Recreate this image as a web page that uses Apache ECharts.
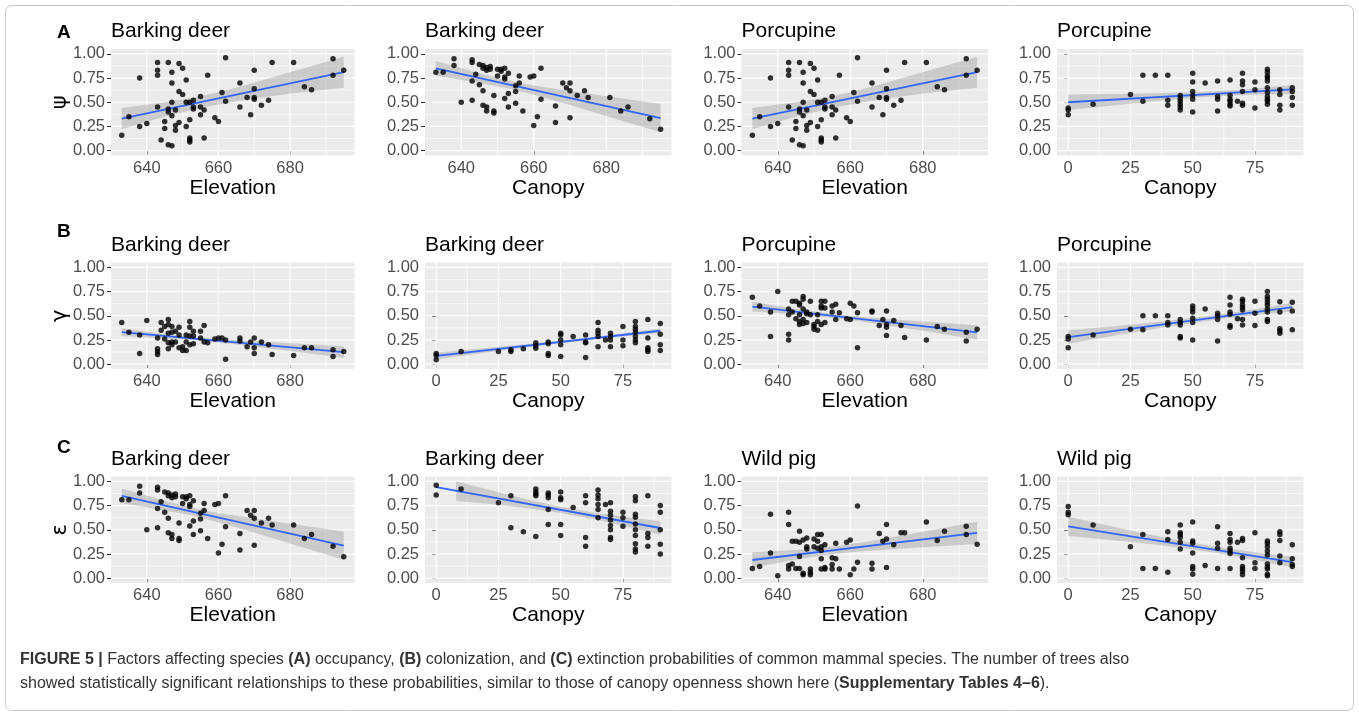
<!DOCTYPE html>
<html>
<head>
<meta charset="utf-8">
<script src="https://cdn.jsdelivr.net/npm/echarts@6/dist/echarts.min.js"></script>
<style>
  html, body { margin: 0; padding: 0; background: #fff; }
  #chart { width: 1359px; height: 716px; }
</style>
</head>
<body>
<div id="chart"></div>
<script>
// ---- tick labels ----
const elevTicks = [640, 660, 680];
const canopyTicks = [0, 25, 50, 75];
const probTicks = [0, 0.25, 0.5, 0.75, 1];

// ---- panel texts ----
const panelTitles = [
  ['Barking deer', 'Barking deer', 'Porcupine', 'Porcupine'],
  ['Barking deer', 'Barking deer', 'Porcupine', 'Porcupine'],
  ['Barking deer', 'Barking deer', 'Wild pig', 'Wild pig']
];
const xAxisTitles = [
  ['Elevation', 'Canopy', 'Elevation', 'Canopy'],
  ['Elevation', 'Canopy', 'Elevation', 'Canopy'],
  ['Elevation', 'Canopy', 'Elevation', 'Canopy']
];
const rowLetters = ['A', 'B', 'C'];
const rowSymbols = ['\u03C8', '\u03B3', '\u03B5'];

// ---- site estimates [covariate, probability] ----
const occElev = [[633,0.16],[635,0.35],[638,0.75],[638,0.25],[640,0.28],[643,0.91],[643,0.83],[643,0.78],[643,0.45],[644,0.11],[645,0.30],[645,0.23],[646,0.91],[646,0.43],[646,0.40],[646,0.06],[647,0.81],[647,0.70],[647,0.50],[647,0.36],[647,0.05],[648,0.42],[648,0.26],[648,0.21],[649,0.90],[649,0.61],[649,0.29],[650,0.85],[650,0.58],[651,0.73],[651,0.50],[651,0.25],[652,0.50],[652,0.32],[652,0.13],[652,0.11],[652,0.09],[653,0.52],[653,0.45],[653,0.43],[655,0.56],[655,0.45],[655,0.37],[656,0.42],[656,0.13],[657,0.78],[659,0.34],[660,0.30],[661,0.60],[662,0.96],[662,0.51],[666,0.70],[666,0.45],[668,0.55],[669,0.37],[670,0.83],[670,0.64],[670,0.55],[670,0.53],[672,0.47],[674,0.52],[675,0.91],[681,0.91],[684,0.66],[686,0.63],[692,0.95],[692,0.78],[695,0.83]];

const extDeerElev = [[633,0.81],[635,0.81],[638,0.95],[638,0.88],[640,0.50],[643,0.94],[643,0.91],[643,0.72],[643,0.52],[644,0.79],[645,0.89],[645,0.68],[646,0.88],[646,0.85],[646,0.62],[646,0.47],[647,0.86],[647,0.83],[647,0.45],[647,0.41],[648,0.87],[648,0.84],[649,0.57],[649,0.41],[649,0.39],[650,0.84],[650,0.77],[651,0.84],[651,0.82],[652,0.85],[652,0.76],[652,0.74],[652,0.54],[653,0.80],[653,0.59],[653,0.45],[655,0.67],[655,0.61],[655,0.49],[656,0.77],[656,0.70],[657,0.41],[659,0.76],[660,0.77],[660,0.26],[661,0.35],[662,0.85],[662,0.53],[666,0.46],[666,0.29],[668,0.70],[669,0.65],[670,0.70],[670,0.62],[670,0.34],[672,0.57],[674,0.62],[675,0.55],[681,0.55],[684,0.41],[686,0.45],[692,0.33],[695,0.22]];

const occPorcCan = [[0,0.44],[0,0.42],[0,0.37],[10,0.48],[25,0.58],[30,0.78],[30,0.51],[35,0.78],[40,0.78],[40,0.52],[40,0.47],[45,0.57],[45,0.54],[45,0.51],[45,0.48],[45,0.45],[45,0.42],[50,0.80],[50,0.71],[50,0.61],[50,0.57],[50,0.53],[50,0.40],[55,0.70],[60,0.72],[60,0.56],[60,0.53],[60,0.41],[65,0.73],[65,0.57],[65,0.53],[65,0.51],[65,0.48],[65,0.46],[68,0.51],[70,0.80],[70,0.72],[70,0.68],[70,0.61],[70,0.49],[70,0.47],[75,0.71],[75,0.63],[75,0.44],[80,0.84],[80,0.81],[80,0.77],[80,0.75],[80,0.72],[80,0.65],[80,0.60],[80,0.56],[80,0.53],[80,0.51],[80,0.48],[85,0.63],[85,0.58],[85,0.47],[85,0.42],[90,0.65],[90,0.61],[90,0.55],[90,0.47]];

const colDeerElev = [[633,0.43],[635,0.33],[638,0.30],[638,0.11],[640,0.45],[643,0.27],[643,0.16],[643,0.13],[643,0.10],[644,0.43],[644,0.35],[645,0.39],[645,0.26],[646,0.46],[646,0.41],[646,0.32],[646,0.22],[646,0.16],[647,0.39],[647,0.33],[647,0.23],[647,0.20],[648,0.34],[648,0.23],[649,0.38],[649,0.30],[649,0.17],[650,0.18],[650,0.14],[651,0.30],[651,0.23],[651,0.14],[652,0.44],[652,0.38],[652,0.29],[652,0.20],[653,0.34],[653,0.29],[653,0.21],[655,0.34],[655,0.27],[656,0.40],[656,0.23],[657,0.22],[659,0.26],[660,0.27],[661,0.27],[662,0.25],[662,0.05],[666,0.27],[666,0.24],[668,0.18],[669,0.23],[670,0.27],[670,0.17],[670,0.11],[672,0.23],[674,0.20],[675,0.10],[681,0.09],[684,0.17],[686,0.17],[692,0.15],[692,0.08],[695,0.13]];

const colDeerCan = [[0,0.11],[0,0.09],[0,0.045],[10,0.13],[25,0.13],[30,0.15],[30,0.13],[35,0.16],[40,0.22],[40,0.19],[40,0.165],[45,0.23],[45,0.21],[45,0.11],[45,0.09],[50,0.32],[50,0.30],[50,0.25],[50,0.20],[50,0.08],[55,0.285],[60,0.30],[60,0.23],[60,0.22],[60,0.07],[65,0.43],[65,0.35],[65,0.32],[65,0.285],[65,0.18],[68,0.25],[70,0.32],[70,0.285],[70,0.25],[70,0.18],[75,0.39],[75,0.25],[75,0.19],[80,0.44],[80,0.39],[80,0.36],[80,0.33],[80,0.285],[80,0.25],[80,0.22],[85,0.46],[85,0.27],[85,0.17],[85,0.15],[85,0.13],[90,0.42],[90,0.31],[90,0.20],[90,0.14]];

const colPorcElev = [[633,0.69],[635,0.60],[638,0.54],[638,0.285],[640,0.75],[643,0.57],[643,0.51],[643,0.31],[643,0.25],[644,0.65],[644,0.54],[645,0.65],[645,0.47],[646,0.63],[646,0.61],[646,0.51],[646,0.44],[646,0.41],[647,0.70],[647,0.67],[647,0.57],[647,0.46],[647,0.42],[648,0.54],[648,0.52],[648,0.43],[649,0.65],[649,0.51],[650,0.41],[650,0.39],[650,0.36],[651,0.51],[651,0.44],[651,0.35],[652,0.65],[652,0.60],[652,0.58],[652,0.41],[653,0.65],[653,0.58],[653,0.43],[655,0.60],[655,0.54],[656,0.62],[656,0.46],[657,0.53],[659,0.47],[660,0.63],[660,0.46],[661,0.60],[662,0.53],[662,0.17],[666,0.55],[666,0.54],[668,0.40],[669,0.46],[670,0.55],[670,0.41],[670,0.38],[670,0.295],[672,0.45],[674,0.40],[675,0.275],[681,0.25],[684,0.39],[686,0.36],[692,0.33],[692,0.24],[695,0.36]];

const colPorcCan = [[0,0.285],[0,0.26],[0,0.17],[10,0.30],[25,0.36],[30,0.50],[30,0.355],[35,0.50],[40,0.50],[40,0.43],[40,0.405],[45,0.46],[45,0.43],[45,0.405],[45,0.285],[45,0.27],[50,0.60],[50,0.57],[50,0.54],[50,0.475],[50,0.43],[50,0.25],[55,0.57],[60,0.525],[60,0.50],[60,0.46],[60,0.24],[65,0.69],[65,0.61],[65,0.54],[65,0.515],[65,0.40],[65,0.38],[68,0.47],[70,0.67],[70,0.65],[70,0.61],[70,0.585],[70,0.56],[70,0.46],[70,0.405],[75,0.65],[75,0.525],[75,0.40],[80,0.75],[80,0.70],[80,0.67],[80,0.64],[80,0.61],[80,0.57],[80,0.54],[80,0.46],[80,0.44],[85,0.645],[85,0.54],[85,0.365],[85,0.345],[85,0.32],[90,0.64],[90,0.55],[90,0.355]];

const extDeerCan = [[0,0.96],[0,0.86],[10,0.92],[25,0.78],[30,0.85],[30,0.52],[35,0.48],[40,0.92],[40,0.89],[40,0.87],[40,0.85],[40,0.43],[45,0.88],[45,0.86],[45,0.83],[45,0.71],[45,0.555],[50,0.89],[50,0.83],[50,0.81],[50,0.555],[50,0.44],[55,0.73],[60,0.85],[60,0.78],[60,0.42],[60,0.33],[65,0.91],[65,0.86],[65,0.82],[65,0.76],[65,0.71],[65,0.625],[68,0.76],[70,0.78],[70,0.69],[70,0.65],[70,0.60],[70,0.545],[70,0.50],[70,0.42],[70,0.40],[75,0.68],[75,0.625],[75,0.535],[80,0.84],[80,0.80],[80,0.66],[80,0.63],[80,0.56],[80,0.50],[80,0.44],[80,0.355],[80,0.30],[80,0.27],[85,0.85],[85,0.46],[85,0.42],[85,0.33],[90,0.75],[90,0.68],[90,0.50],[90,0.35],[90,0.25]];

const extPigElev = [[633,0.10],[635,0.12],[638,0.66],[638,0.26],[640,0.025],[643,0.68],[643,0.555],[643,0.13],[643,0.095],[644,0.38],[644,0.145],[645,0.38],[645,0.10],[646,0.485],[646,0.37],[646,0.225],[646,0.10],[647,0.395],[647,0.05],[647,0.035],[648,0.415],[648,0.325],[648,0.30],[649,0.095],[649,0.06],[649,0.035],[650,0.405],[650,0.325],[651,0.45],[651,0.38],[651,0.31],[652,0.45],[652,0.325],[652,0.285],[652,0.20],[652,0.095],[653,0.345],[653,0.11],[653,0.095],[655,0.21],[655,0.14],[655,0.095],[656,0.36],[656,0.20],[657,0.095],[659,0.37],[660,0.395],[660,0.035],[661,0.095],[662,0.745],[662,0.165],[666,0.155],[666,0.095],[668,0.46],[669,0.38],[670,0.555],[670,0.405],[670,0.11],[672,0.345],[674,0.47],[675,0.47],[681,0.58],[684,0.39],[686,0.485],[692,0.535],[692,0.45],[695,0.35]];

const extPigCan = [[0,0.74],[0,0.68],[0,0.655],[10,0.55],[25,0.325],[30,0.45],[30,0.10],[35,0.10],[40,0.48],[40,0.40],[40,0.06],[45,0.55],[45,0.47],[45,0.45],[45,0.42],[45,0.37],[45,0.30],[50,0.58],[50,0.385],[50,0.36],[50,0.26],[50,0.12],[50,0.095],[50,0.04],[55,0.13],[60,0.53],[60,0.36],[60,0.31],[60,0.10],[65,0.46],[65,0.40],[65,0.37],[65,0.31],[65,0.28],[65,0.255],[65,0.10],[68,0.37],[70,0.41],[70,0.39],[70,0.21],[70,0.12],[70,0.095],[70,0.07],[70,0.035],[75,0.47],[75,0.16],[75,0.10],[80,0.385],[80,0.36],[80,0.325],[80,0.28],[80,0.24],[80,0.145],[80,0.115],[80,0.095],[80,0.04],[80,0.025],[85,0.48],[85,0.45],[85,0.39],[85,0.23],[85,0.16],[90,0.345],[90,0.20],[90,0.14],[90,0.12]];

// ---- fitted lines [x, y] at the ends of the data ----
const fitOccElev = [[633,0.33],[695,0.81]];
const fitExtDeerElev = [[633,0.85],[695,0.335]];
const fitOccPorcCan = [[0,0.50],[90,0.632]];
const fitColDeerElev = [[633,0.33],[695,0.125]];
const fitColDeerCan = [[0,0.085],[90,0.345]];
const fitColPorcElev = [[633,0.595],[695,0.328]];
const fitColPorcCan = [[0,0.28],[90,0.589]];
const fitExtDeerCan = [[0,0.94],[90,0.518]];
const fitExtPigElev = [[633,0.1875],[695,0.467]];
const fitExtPigCan = [[0,0.535],[90,0.166]];

// ---- confidence bands [x, lower, upper] ----
const bandOccElev = [[633,0.22,0.44],[645,0.35,0.50],[655,0.44,0.56],[665,0.51,0.65],[680,0.59,0.81],[695,0.65,0.97]];
const bandExtDeerElev = [[633,0.775,0.925],[645,0.70,0.80],[652,0.652,0.732],[660,0.578,0.674],[670,0.471,0.615],[682,0.335,0.551],[695,0.189,0.481]];
const bandOccPorcCan = [[0,0.42,0.58],[10,0.447,0.583],[20,0.472,0.586],[35,0.51,0.592],[50,0.543,0.603],[60,0.561,0.615],[75,0.577,0.643],[90,0.586,0.678]];
const bandColDeerElev = [[633,0.29,0.37],[645,0.268,0.312],[655,0.241,0.273],[665,0.202,0.246],[680,0.135,0.215],[695,0.065,0.185]];
const bandColDeerCan = [[0,0.05,0.12],[15,0.102,0.154],[30,0.154,0.19],[45,0.201,0.229],[60,0.245,0.271],[75,0.286,0.318],[90,0.321,0.369]];
const bandColPorcElev = [[633,0.545,0.645],[645,0.515,0.571],[655,0.48,0.52],[665,0.431,0.483],[680,0.345,0.441],[695,0.253,0.403]];
const bandColPorcCan = [[0,0.21,0.35],[15,0.279,0.383],[30,0.346,0.42],[45,0.407,0.461],[60,0.462,0.51],[75,0.507,0.567],[90,0.544,0.634]];
const bandExtDeerCan = [[8,0.797,1.0],[20,0.771,0.921],[35,0.728,0.824],[50,0.672,0.738],[65,0.60,0.67],[78,0.522,0.626],[90,0.448,0.588]];
const bandExtPigElev = [[633,0.108,0.268],[645,0.192,0.292],[655,0.247,0.327],[665,0.283,0.379],[680,0.319,0.479],[695,0.352,0.582]];
const bandExtPigCan = [[0,0.435,0.635],[15,0.399,0.549],[30,0.36,0.464],[45,0.314,0.388],[60,0.256,0.322],[75,0.188,0.268],[90,0.111,0.221]];

// ---- panel grid ----
const panelData = [
  [[occElev, fitOccElev, bandOccElev, 'elev'], [extDeerElev, fitExtDeerElev, bandExtDeerElev, 'elev'], [occElev, fitOccElev, bandOccElev, 'elev'], [occPorcCan, fitOccPorcCan, bandOccPorcCan, 'canopy']],
  [[colDeerElev, fitColDeerElev, bandColDeerElev, 'elev'], [colDeerCan, fitColDeerCan, bandColDeerCan, 'canopy'], [colPorcElev, fitColPorcElev, bandColPorcElev, 'elev'], [colPorcCan, fitColPorcCan, bandColPorcCan, 'canopy']],
  [[extDeerElev, fitExtDeerElev, bandExtDeerElev, 'elev'], [extDeerCan, fitExtDeerCan, bandExtDeerCan, 'canopy'], [extPigElev, fitExtPigElev, bandExtPigElev, 'elev'], [extPigCan, fitExtPigCan, bandExtPigCan, 'canopy']]
];

const FONT = '"Liberation Sans", Arial, Helvetica, sans-serif';
const axisKinds = {
  elev:   { min: 630, max: 698, major: elevTicks, minor: [650, 670, 690] },
  canopy: { min: -4.5, max: 94.5, major: canopyTicks, minor: [12.5, 37.5, 62.5, 87.5] }
};
const probAxis = { min: -0.05, max: 1.05, major: probTicks, minor: [0.125, 0.375, 0.625, 0.875] };

const colBoxes = [
  { left: 111, width: 243.5 },
  { left: 425, width: 246.5 },
  { left: 741.5, width: 246.5 },
  { left: 1057, width: 246.5 }
];
const rowTops = [49, 262.5, 476.5];
const PANEL_H = 106.5;

const grids = [], xAxes = [], yAxes = [], series = [], graphics = [];

function panelBackdrop(kind, band) {
  const ax = axisKinds[kind];
  return function (params, api) {
    const cs = params.coordSys;
    const kids = [];
    const vline = (v, w) => {
      const x = api.coord([v, 0.5])[0];
      kids.push({ type: 'line', shape: { x1: x, y1: cs.y, x2: x, y2: cs.y + cs.height }, style: { stroke: '#ffffff', lineWidth: w } });
    };
    const hline = (v, w) => {
      const y = api.coord([ax.min, v])[1];
      kids.push({ type: 'line', shape: { x1: cs.x, y1: y, x2: cs.x + cs.width, y2: y }, style: { stroke: '#ffffff', lineWidth: w } });
    };
    ax.minor.forEach(v => vline(v, 0.6));
    probAxis.minor.forEach(v => hline(v, 0.6));
    ax.major.forEach(v => vline(v, 1.2));
    probAxis.major.forEach(v => hline(v, 1.2));
    const upper = band.map(b => api.coord([b[0], b[2]]));
    const lower = band.map(b => api.coord([b[0], b[1]])).reverse();
    kids.push({ type: 'polygon', shape: { points: upper.concat(lower) }, style: { fill: 'rgba(153,153,153,0.4)' } });
    return { type: 'group', children: kids };
  };
}

let idx = 0;
for (let r = 0; r < 3; r++) {
  for (let c = 0; c < 4; c++) {
    const [pts, fit, band, kind] = panelData[r][c];
    const ax = axisKinds[kind];
    const box = colBoxes[c];
    grids.push({ left: box.left, top: rowTops[r], width: box.width, height: PANEL_H, show: true, backgroundColor: '#EBEBEB', borderWidth: 0 });
    xAxes.push({
      gridIndex: idx, type: 'value', min: ax.min, max: ax.max,
      axisLine: { show: false }, splitLine: { show: false },
      axisTick: { show: true, length: 4, lineStyle: { color: '#333333', width: 1 }, customValues: ax.major },
      axisLabel: { customValues: ax.major, color: '#4D4D4D', fontSize: 16.5, fontFamily: FONT, margin: 4 },
      name: xAxisTitles[r][c], nameLocation: 'middle', nameGap: 21,
      nameTextStyle: { fontSize: 21, color: '#000', fontFamily: FONT }
    });
    yAxes.push({
      gridIndex: idx, type: 'value', min: probAxis.min, max: probAxis.max,
      axisLine: { show: false }, splitLine: { show: false },
      axisTick: { show: true, length: 4, lineStyle: { color: '#333333', width: 1 }, customValues: probAxis.major },
      axisLabel: { customValues: probAxis.major, color: '#4D4D4D', fontSize: 16.5, fontFamily: FONT, margin: 6, formatter: v => v.toFixed(2) }
    });
    series.push({
      type: 'custom', xAxisIndex: idx, yAxisIndex: idx, z: 1, silent: true, clip: true,
      data: [[ax.min + 1, 0.5]], renderItem: panelBackdrop(kind, band)
    });
    series.push({
      type: 'line', xAxisIndex: idx, yAxisIndex: idx, z: 3, silent: true, data: fit,
      showSymbol: false, lineStyle: { color: '#3366FF', width: 1.8 }
    });
    series.push({
      type: 'scatter', xAxisIndex: idx, yAxisIndex: idx, z: 4, silent: true, data: pts,
      symbolSize: 5.5, itemStyle: { color: '#000000' }
    });
    graphics.push({
      type: 'text', x: box.left, y: rowTops[r] - 17.5, silent: true,
      style: { text: panelTitles[r][c], fontSize: 21, fontFamily: FONT, fill: '#000', align: 'left', verticalAlign: 'middle' }
    });
    idx++;
  }
}

// row letters and response symbols
const letterY = [33, 232, 448];
rowLetters.forEach((t, r) => {
  graphics.push({ type: 'text', x: 57, y: letterY[r], silent: true,
    style: { text: t, fontSize: 19, fontWeight: 'bold', fontFamily: FONT, fill: '#000', align: 'left', verticalAlign: 'middle' } });
});
rowSymbols.forEach((t, r) => {
  const yMid = rowTops[r] + PANEL_H * (1.05 - 0.5) / 1.1;
  graphics.push({ type: 'text', x: 61, y: yMid, rotation: Math.PI / 2, silent: true,
    style: { text: t, fontSize: 21, fontFamily: '"DejaVu Sans", ' + FONT, fill: '#000', align: 'center', verticalAlign: 'middle' } });
});

// frame and caption
graphics.push({ type: 'rect', silent: true, z: -1,
  shape: { x: 5.5, y: 5.5, width: 1348, height: 705, r: 6 },
  style: { fill: 'none', stroke: '#c8c8c8', lineWidth: 1 } });
graphics.push({ type: 'text', x: 20, y: 648, silent: true,
  style: {
    text: '{b|FIGURE 5 |} Factors affecting species {b|(A)} occupancy, {b|(B)} colonization, and {b|(C)} extinction probabilities of common mammal species. The number of trees also\n' +
          'showed statistically significant relationships to these probabilities, similar to those of canopy openness shown here ({b|Supplementary Tables 4\u20136}).',
    fontSize: 16, fontFamily: FONT, fill: '#333', lineHeight: 24,
    rich: { b: { fontWeight: 'bold', fontSize: 16, fontFamily: FONT, fill: '#333', lineHeight: 24 } }
  } });

const chart = echarts.init(document.getElementById('chart'), null, { renderer: 'canvas' });
chart.setOption({
  animation: false,
  backgroundColor: '#ffffff',
  grid: grids, xAxis: xAxes, yAxis: yAxes, series: series, graphic: graphics
});
</script>
</body>
</html>
